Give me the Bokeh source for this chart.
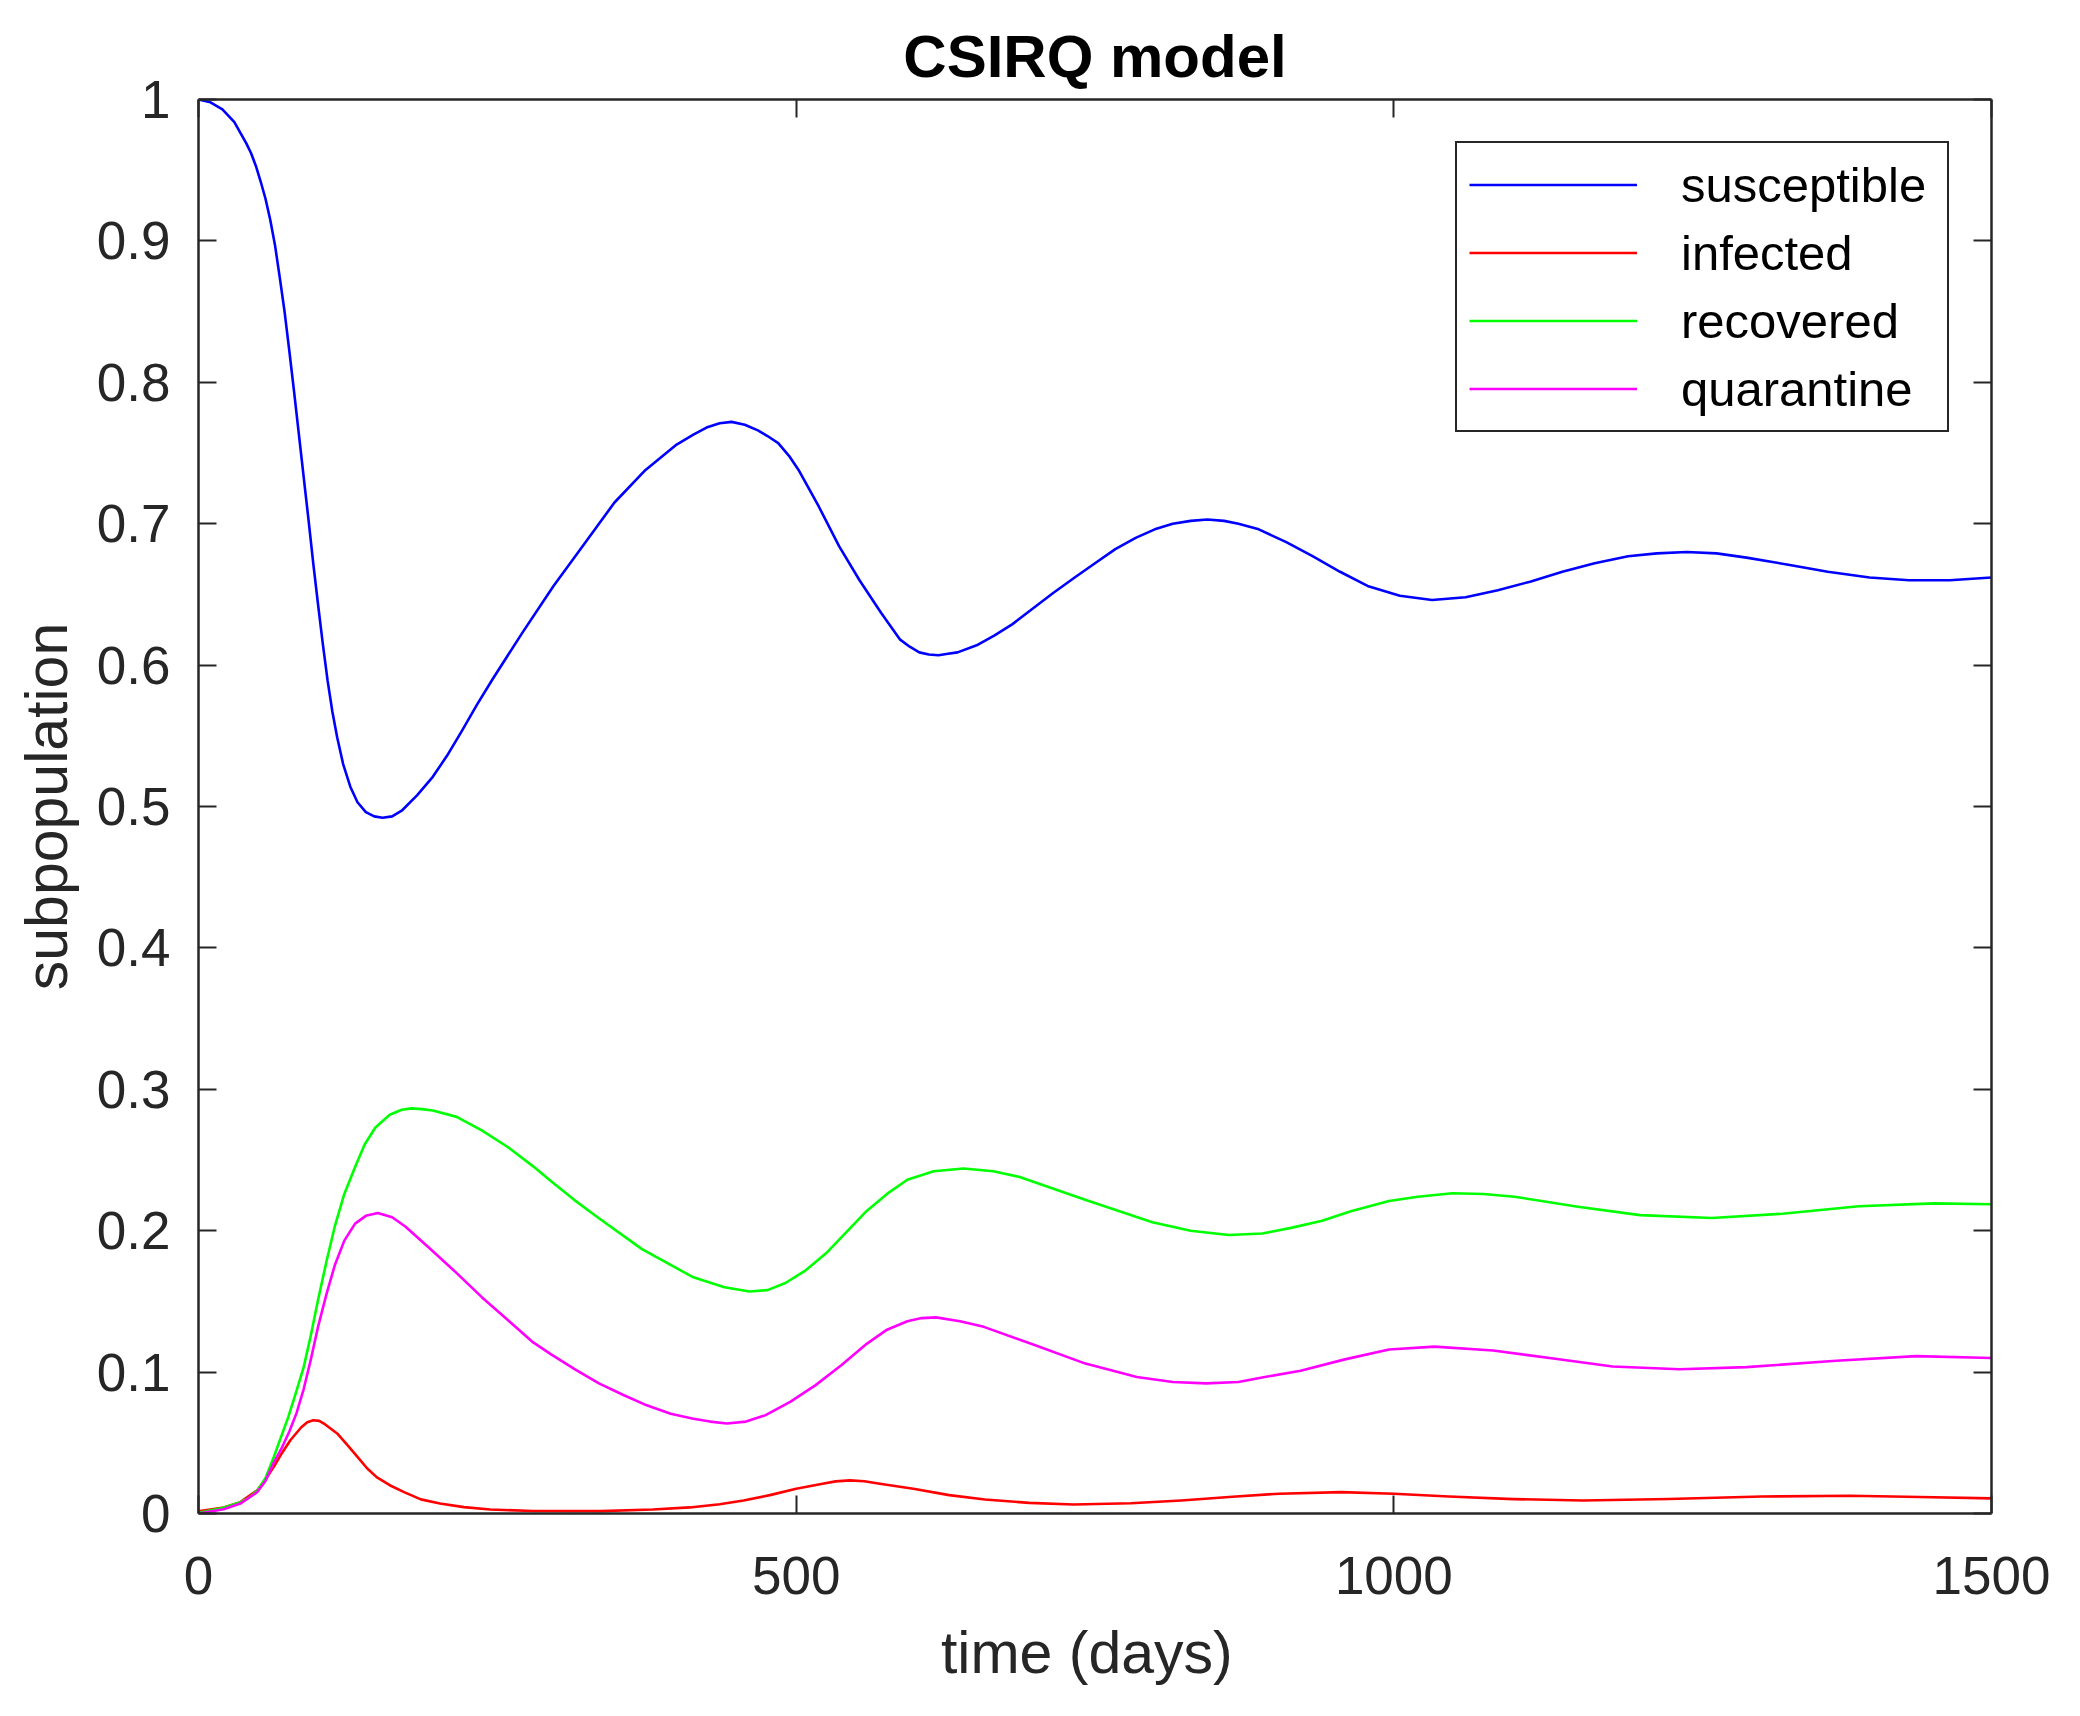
from bokeh.plotting import figure
from bokeh.models import Range1d, LinearAxis, FixedTicker, Legend, LegendItem, CustomLabelingPolicy
from bokeh.embed import file_html
from bokeh.resources import INLINE

# ---------------- data ----------------
days_s = [0, 10, 20, 30, 40, 44, 48, 52, 56, 60, 64, 68, 72, 76, 80, 84, 88, 92, 96, 100, 104,
          108, 112, 116, 121, 127, 133, 140, 147, 154, 162, 170, 183, 196, 208, 220, 233, 246, 271,
          297, 323, 348, 374, 400, 414, 425, 436, 446, 457, 468, 476, 485, 494, 502, 519, 536, 553,
          571, 587, 595, 603, 611, 619, 627, 635, 651, 666, 681, 698, 715, 733, 750, 767, 784, 800,
          815, 830, 844, 858, 870, 887, 910, 932, 955, 978, 1005, 1032, 1060, 1087, 1114, 1141,
          1168, 1196, 1220, 1245, 1270, 1295, 1330, 1363, 1398, 1431, 1465, 1500]
susceptible = [1.000, 0.998, 0.993, 0.984, 0.969, 0.962, 0.953, 0.942, 0.930, 0.915, 0.897, 0.874,
               0.850, 0.822, 0.793, 0.763, 0.733, 0.703, 0.672, 0.643, 0.615, 0.589, 0.567, 0.549,
               0.530, 0.514, 0.503, 0.496, 0.493, 0.492, 0.493, 0.497, 0.508, 0.521, 0.536, 0.553,
               0.572, 0.590, 0.623, 0.656, 0.686, 0.715, 0.738, 0.756, 0.763, 0.768, 0.771, 0.772,
               0.770, 0.766, 0.762, 0.757, 0.748, 0.738, 0.712, 0.684, 0.660, 0.637, 0.618, 0.613,
               0.609, 0.6075, 0.607, 0.608, 0.609, 0.614, 0.621, 0.629, 0.640, 0.651, 0.662, 0.672,
               0.682, 0.690, 0.696, 0.700, 0.702, 0.703, 0.702, 0.700, 0.696, 0.687, 0.677, 0.666,
               0.656, 0.649, 0.646, 0.648, 0.653, 0.659, 0.666, 0.672, 0.677, 0.679, 0.680, 0.679,
               0.676, 0.671, 0.666, 0.662, 0.660, 0.660, 0.662]

days_i = [0, 21, 35, 49, 56, 63, 70, 77, 86, 91, 96, 101, 106, 116, 125, 133, 141, 149, 160, 172,
          186, 202, 222, 244, 280, 336, 380, 411, 436, 456, 478, 500, 522, 533, 545, 557, 570, 598,
          628, 658, 695, 732, 780, 822, 865, 904, 956, 1000, 1046, 1100, 1158, 1230, 1308, 1382,
          1440, 1500]
infected = [0.0015, 0.0043, 0.008, 0.0163, 0.024, 0.033, 0.043, 0.052, 0.061, 0.0645, 0.066,
            0.0655, 0.063, 0.0566, 0.048, 0.040, 0.032, 0.0257, 0.020, 0.0151, 0.010, 0.0071,
            0.0045, 0.0028, 0.0018, 0.0017, 0.0028, 0.0043, 0.0065, 0.0092, 0.013, 0.0175, 0.021,
            0.0227, 0.0234, 0.0228, 0.021, 0.0175, 0.013, 0.0099, 0.0075, 0.0064, 0.0072, 0.0092,
            0.0118, 0.014, 0.0151, 0.014, 0.012, 0.0102, 0.0092, 0.0103, 0.012, 0.0125, 0.0117,
            0.0107]

days_r = [0, 21, 35, 42, 49, 56, 63, 69, 75, 81, 88, 94, 100, 107, 114, 122, 131, 139, 148, 160,
          170, 178, 187, 196, 216, 237, 259, 280, 295, 314, 333, 371, 414, 440, 461, 476, 491, 508,
          525, 542, 559, 576, 593, 615, 640, 665, 687, 743, 798, 830, 862, 890, 914, 940, 964, 996,
          1020, 1049, 1075, 1101, 1154, 1206, 1266, 1325, 1389, 1452, 1500]
recovered = [0.0005, 0.004, 0.008, 0.011, 0.016, 0.025, 0.040, 0.054, 0.068, 0.084, 0.1035, 0.126,
             0.151, 0.178, 0.203, 0.226, 0.245, 0.261, 0.273, 0.282, 0.2855, 0.2865, 0.286, 0.285,
             0.2805, 0.271, 0.259, 0.2455, 0.235, 0.222, 0.210, 0.187, 0.167, 0.160, 0.157, 0.158,
             0.163, 0.172, 0.184, 0.199, 0.214, 0.226, 0.236, 0.242, 0.244, 0.242, 0.238, 0.2215,
             0.206, 0.200, 0.197, 0.198, 0.202, 0.207, 0.2137, 0.221, 0.224, 0.2265, 0.226, 0.224,
             0.217, 0.211, 0.209, 0.212, 0.2173, 0.2193, 0.2187]

days_q = [0, 21, 35, 49, 56, 63, 70, 76, 82, 88, 94, 100, 107, 114, 122, 131, 140, 150, 162, 173,
          194, 216, 237, 259, 280, 295, 315, 335, 355, 375, 395, 414, 428, 442, 458, 474, 495, 516,
          538, 559, 576, 593, 605, 617, 637, 657, 700, 742, 785, 815, 843, 870, 892, 922, 959, 996,
          1034, 1083, 1135, 1183, 1239, 1295, 1370, 1437, 1500]
quarantine = [0.0, 0.003, 0.007, 0.015, 0.023, 0.036, 0.047, 0.058, 0.071, 0.088, 0.109, 0.132,
              0.155, 0.1755, 0.193, 0.205, 0.2105, 0.2125, 0.2095, 0.203, 0.187, 0.170, 0.153,
              0.1366, 0.121, 0.1125, 0.102, 0.092, 0.084, 0.0765, 0.0705, 0.067, 0.065, 0.0637,
              0.065, 0.0694, 0.079, 0.0906, 0.105, 0.120, 0.130, 0.136, 0.1382, 0.1387, 0.136,
              0.132, 0.119, 0.106, 0.0965, 0.093, 0.092, 0.093, 0.0965, 0.101, 0.109, 0.116, 0.118,
              0.1153, 0.1094, 0.104, 0.102, 0.1035, 0.108, 0.1113, 0.110]

series_names = ["susceptible", "infected", "recovered", "quarantine"]
series_colors = ["#0000FF", "#FF0000", "#00FF00", "#FF00FF"]

x_ticks = [0, 500, 1000, 1500]
x_tick_labels = ["0", "500", "1000", "1500"]
y_ticks = [0, 0.1, 0.2, 0.3, 0.4, 0.5, 0.6, 0.7, 0.8, 0.9, 1]
y_tick_labels = ["0", "0.1", "0.2", "0.3", "0.4", "0.5", "0.6", "0.7", "0.8", "0.9", "1"]

title_text = "CSIRQ model"
x_label = "time  (days)"
y_label = "subpopulation"

# ---------------- figure ----------------
FONT = "Liberation Sans"
AX = "#262626"

p = figure(frame_width=1793, frame_height=1414,
           min_border_left=198, min_border_right=81, min_border_top=99, min_border_bottom=195,
           x_range=Range1d(0, 1500), y_range=Range1d(0, 1),
           output_backend="svg", toolbar_location=None, x_axis_location=None, y_axis_location=None,
           background_fill_color="white", border_fill_color="white")
p.outline_line_color = None
p.xgrid.visible = False
p.ygrid.visible = False

p.title.text = title_text
p.title.align = "center"
p.title.text_font = FONT
p.title.text_font_size = "60px"
p.title.text_font_style = "bold"
p.title.text_color = "black"
p.title.standoff = 20


def style_axis(ax, ticks, labels, show_labels, axis_label=None):
    ax.ticker = FixedTicker(ticks=ticks)
    ax.major_label_overrides = {t: l for t, l in zip(ticks, labels)}
    ax.minor_tick_line_color = None
    ax.major_tick_in = 18
    ax.major_tick_out = 0
    ax.major_tick_line_color = AX
    ax.major_tick_line_width = 2
    ax.axis_line_color = AX
    ax.axis_line_width = 2.5
    ax.major_label_text_font = FONT
    ax.major_label_text_font_size = "53px"
    ax.major_label_text_color = AX
    ax.major_label_standoff = 28
    if not show_labels:
        # mirrored box axis: ticks only, no labels drawn
        ax.major_label_policy = CustomLabelingPolicy(code="return []")
        ax.major_label_text_font_size = "0px"
        ax.major_label_standoff = 0
    if axis_label is not None:
        ax.axis_label = axis_label
        ax.axis_label_text_font = FONT
        ax.axis_label_text_font_size = "59px"
        ax.axis_label_text_font_style = "normal"
        ax.axis_label_text_color = AX


xb = LinearAxis()
style_axis(xb, x_ticks, x_tick_labels, True, x_label)
xb.major_label_standoff = 43
xb.axis_label_standoff = 23
p.add_layout(xb, "below")

yl = LinearAxis()
style_axis(yl, y_ticks, y_tick_labels, True, y_label)
yl.axis_label_standoff = 14
p.add_layout(yl, "left")

xt = LinearAxis()
style_axis(xt, x_ticks, x_tick_labels, False)
p.add_layout(xt, "above")

yr = LinearAxis()
style_axis(yr, y_ticks, y_tick_labels, False)
p.add_layout(yr, "right")

renderers = []
for xs, ys, c in zip([days_s, days_i, days_r, days_q],
                     [susceptible, infected, recovered, quarantine], series_colors):
    r = p.line(xs, ys, line_color=c, line_width=2.6, line_join="round")
    renderers.append(r)

legend = Legend(items=[LegendItem(label=n, renderers=[r]) for n, r in zip(series_names, renderers)],
                location="top_right")
legend.margin = 42
legend.padding = 12
legend.spacing = 9
legend.glyph_width = 168
legend.glyph_height = 59
legend.label_height = 59
legend.label_width = 254
legend.label_standoff = 44
legend.label_text_font = FONT
legend.label_text_font_size = "49px"
legend.label_text_color = "black"
legend.border_line_color = AX
legend.border_line_alpha = 1.0
legend.border_line_width = 2.5
legend.background_fill_color = "white"
legend.background_fill_alpha = 1
p.add_layout(legend)

open("out.html", "w").write(file_html(p, INLINE))
